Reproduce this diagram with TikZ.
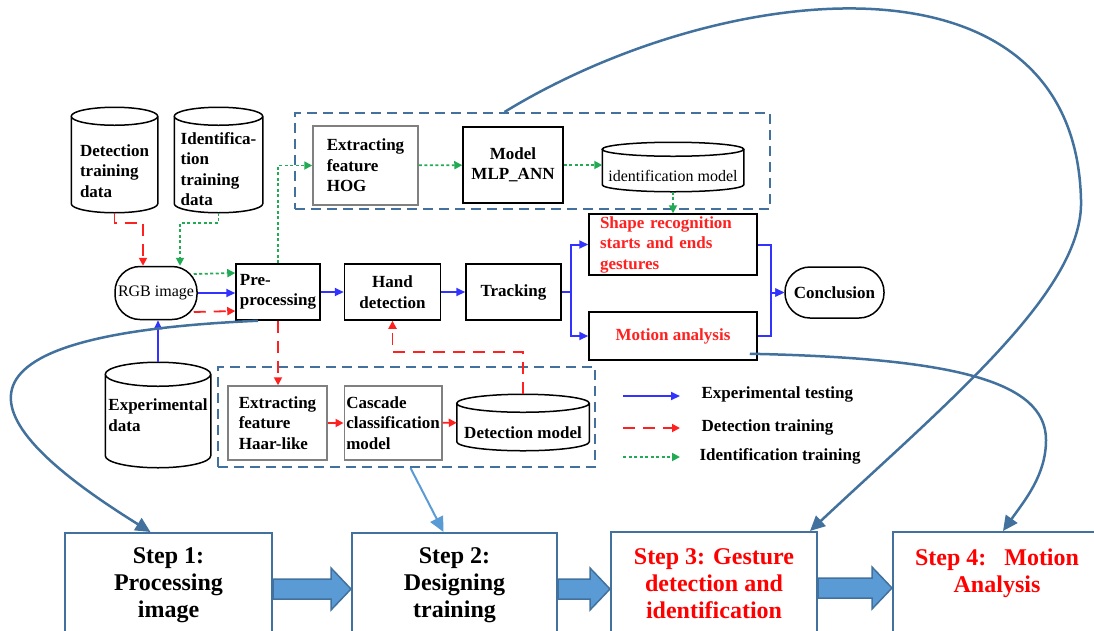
\documentclass[tikz,border=0pt]{standalone}
\usepackage{fontspec}
\setmainfont{Liberation Serif}
\usetikzlibrary{positioning}
\usetikzlibrary{arrows.meta}
\usetikzlibrary{calc}
\definecolor{stepblue}{HTML}{41719C}
\definecolor{fillblue}{HTML}{5B9BD5}
\definecolor{testblue}{HTML}{3333FF}
\definecolor{detred}{HTML}{FF2020}
\definecolor{idgreen}{HTML}{22AA55}
\newcommand{\lblfont}{\fontsize{17}{20.5}\selectfont\bfseries}
\newcommand{\plainfont}{\fontsize{16}{19}\selectfont}
\newcommand{\stepfont}{\fontsize{24}{27}\selectfont\bfseries}
\tikzset{basic/.style={draw,line width=1.5pt,font=\lblfont,inner sep=2pt}}
\tikzset{proc/.style={basic,rectangle,align=center}}
\tikzset{soft/.style={proc,draw=gray}}
\tikzset{pill/.style={basic,rectangle,rounded corners=25pt}}
\tikzset{store/.style={basic,rectangle,draw=none,align=left}}
\tikzset{group/.style={draw=stepblue,line width=2pt,dash pattern=on 10pt off 6pt}}
\tikzset{stepbox/.style={draw=stepblue,line width=2pt,font=\stepfont,align=center,anchor=north}}
\tikzset{testline/.style={draw=testblue,line width=2pt,-{Triangle[length=9pt,width=8pt]}}}
\tikzset{detline/.style={draw=detred,line width=1.8pt,dash pattern=on 12pt off 8pt,-{Triangle[length=8pt,width=8pt]}}}
\tikzset{idline/.style={draw=idgreen,line width=1.8pt,dash pattern=on 3pt off 2.5pt,-{Triangle[length=8pt,width=8pt]}}}
\tikzset{jump/.style={draw=stepblue,line width=2.5pt,-{Triangle[length=15pt,width=14pt]}}}
\tikzset{blockarr/.style={fill=fillblue,draw=stepblue,line width=1.5pt}}
% fat arrow between two steps
\newcommand{\bigstep}[2]{%
  \draw[blockarr] let \p1=(#1.east), \p2=(#2.west) in
    (\x1,\y1+6pt) -- (\x2-20pt,\y1+6pt) -- (\x2-20pt,\y1+17pt) -- (\x2,\y1-4pt)
    -- (\x2-20pt,\y1-25pt) -- (\x2-20pt,\y1-14pt) -- (\x1,\y1-14pt) -- cycle;}
% drum outline round a store node, #2 = half height of the lid
\newcommand{\drum}[2]{%
  \draw[line width=1.5pt] let \p1=(#1.north west), \p2=(#1.south east) in
    ({(\x1+\x2)/2},\y1-#2) ellipse [x radius={(\x2-\x1)/2}, y radius=#2]
    (\x1,\y1-#2) -- (\x1,\y2+#2)
    .. controls (\x1,\y2+0.448*#2) and ({(\x1+\x2)/2-0.276*(\x2-\x1)},\y2) .. ({(\x1+\x2)/2},\y2)
    .. controls ({(\x1+\x2)/2+0.276*(\x2-\x1)},\y2) and (\x2,\y2+0.448*#2) .. (\x2,\y2+#2)
    -- (\x2,\y1-#2);}

\begin{document}
\begin{tikzpicture}[x=1pt,y=-1pt]
        \useasboundingbox (0,0) rectangle (1094,630);
        \clip (0,0) rectangle (1094,630);

        % data stores
        \node[store,text height=75pt,minimum width=85pt,minimum height=104pt] (dtd) at (114.5,160) {Detection\\training\\data};
        \node[store,text height=92pt,minimum width=87pt,minimum height=104pt] (itd) at (218.5,160) {Identifica-\\tion\\training\\data};
        \node[store,minimum width=104pt,minimum height=104pt] (expd) at (158,415) {Experimental\\data};
        \drum{dtd}{9pt}
        \drum{itd}{9pt}
        \drum{expd}{12pt}

        % main row
        \node[pill,font=\plainfont,minimum width=82pt,minimum height=53pt] (rgb) at (156,293) {RGB image};
        \node[proc,align=left,minimum width=84pt,minimum height=56pt] (pre) at (278,292) {Pre-\\processing};
        \node[proc,right=23pt of pre,minimum width=96pt,minimum height=56pt] (hand) {Hand\\detection};
        \node[proc,right=24pt of hand,minimum width=95pt,minimum height=56pt] (track) {Tracking};
        \node[proc,text=detred,align=left,text width=146pt,minimum width=168pt,minimum height=61pt] (shape) at (673,244.5) {Shape recognition\\starts and ends\\gestures};
        \node[proc,text=detred,minimum width=168pt,minimum height=48pt] (motion) at (673,336) {Motion analysis};
        \node[pill,minimum width=99pt,minimum height=51pt] (concl) at (834.5,292.5) {Conclusion};

        % identification training
        \node[group,minimum width=475pt,minimum height=96pt] (topbox) at (532.5,161) {};
        \node[soft,align=left,minimum width=105pt,minimum height=79pt] (hog) at (365.5,165.5) {Extracting\\feature\\HOG};
        \node[proc,minimum width=100pt,minimum height=76pt] (mlp) at (513,165) {Model\\MLP\_ANN};
        \node[store,font=\plainfont,text height=29pt,minimum width=140pt,minimum height=48pt] (idm) at (673,167) {identification model};
        \drum{idm}{7pt}

        % detection training
        \node[group,minimum width=377pt,minimum height=100pt] (botbox) at (406.5,417) {};
        \node[soft,align=left,minimum width=99pt,minimum height=74pt] (haar) at (277.5,423) {Extracting\\feature\\Haar-like};
        \node[soft,align=left,minimum width=97pt,minimum height=74pt] (casc) at (393,423) {Cascade\\classification\\model};
        \node[store,text height=32pt,minimum width=131pt,minimum height=55pt] (detm) at (523,422.5) {Detection model};
        \drum{detm}{9pt}

        % experimental testing
        \path[testline] (expd.north) -- (expd.north |- rgb.south);
        \path[testline] (rgb.east) -- (rgb.east -| pre.west);
        \path[testline] (pre) -- (hand);
        \path[testline] (hand) -- (track);
        \draw[draw=testblue,line width=2pt] (track.east) -- ++(9,0) coordinate (split);
        \path[testline] (split) |- (shape.west);
        \path[testline] (split) |- (motion.west);
        \path[testline] (shape.east) -- ++(13,0) |- (concl.west);
        \path[testline] (motion.east) -- ++(13,0) |- (concl.west);

        % detection training
        \path[detline] (dtd.south) -- ++(0,10) -| ($(rgb.north)+(-13,0)$);
        \path[detline] ($(rgb.east)+(-4,19)$) -- ($(pre.west)+(0,19)$);
        \path[detline] (pre.south) -- (pre.south |- haar.north);
        \path[detline,dash pattern=] (haar) -- (casc);
        \path[detline,dash pattern=] (casc) -- (detm);
        \path[detline] (detm.north) -- ++(0,-42) -| (hand.south);

        % identification training
        \path[idline] (itd.south) -- ++(0,10) -| ($(rgb.north)+(24,0)$);
        \path[idline] ($(rgb.east)+(-4,-19)$) -- ($(pre.west)+(0,-19)$);
        \path[idline] (pre.north) |- (hog.west);
        \path[idline] (hog) -- (mlp);
        \path[idline] (mlp.east) -- (mlp.east -| idm.west);
        \path[idline] (idm.south) -- (shape.north);

        % legend
        \coordinate (leg1a) at (623,396); \coordinate (leg1b) at (680,396);
        \coordinate (leg2a) at (623,428); \coordinate (leg2b) at (680,428);
        \coordinate (leg3a) at (623,457); \coordinate (leg3b) at (680,457);
        \path[testline] (leg1a) -- (leg1b);
        \path[detline] (leg2a) -- (leg2b);
        \path[idline] (leg3a) -- (leg3b);
        \node[font=\lblfont,anchor=west] (leg1) at (698,394) {Experimental testing};
        \node[font=\lblfont,anchor=west] (leg2) at (698,427) {Detection training};
        \node[font=\lblfont,anchor=west] (leg3) at (696,456) {Identification training};

        % steps
        \node[stepbox,minimum width=207pt,minimum height=104pt] (s1) at (168.5,532) {Step 1:\\Processing\\image};
        \node[stepbox,minimum width=205pt,minimum height=104pt] (s2) at (454.5,532) {Step 2:\\Designing\\training};
        \node[stepbox,text=red,minimum width=206pt,minimum height=104pt] (s3) at (714,531) {Step 3: Gesture\\detection and\\identification};
        \node[stepbox,text=red,minimum width=208pt,minimum height=104pt] (s4) at (997,531) {Step 4:~~~Motion\\Analysis\\\mbox{}};
        \bigstep{s1}{s2}
        \bigstep{s2}{s3}
        \bigstep{s3}{s4}

        \draw[jump] ($(pre.south)+(-20,0)$) .. controls (-70,335) and (-30,420) .. ($(s1.north)+(-18,0)$);
        \draw[jump,draw=fillblue,line width=2pt] ($(botbox.south)+(4,0)$) -- ($(s2.north)+(-11,0)$);
        \draw[jump] ($(topbox.north)+(-28,0)$) .. controls (720,-20) and (1075,-60) .. (1081,200)
            .. controls (1084,290) and (950,400) .. ($(s3.north east)+(-8,0)$);
        \draw[jump] ($(motion.south east)+(-8,-7)$) .. controls (950,358) and (1046,380) .. (1046,440)
            .. controls (1046,475) and (1025,500) .. ($(s4.north)+(6,0)$);

    \end{tikzpicture}
\end{document}
